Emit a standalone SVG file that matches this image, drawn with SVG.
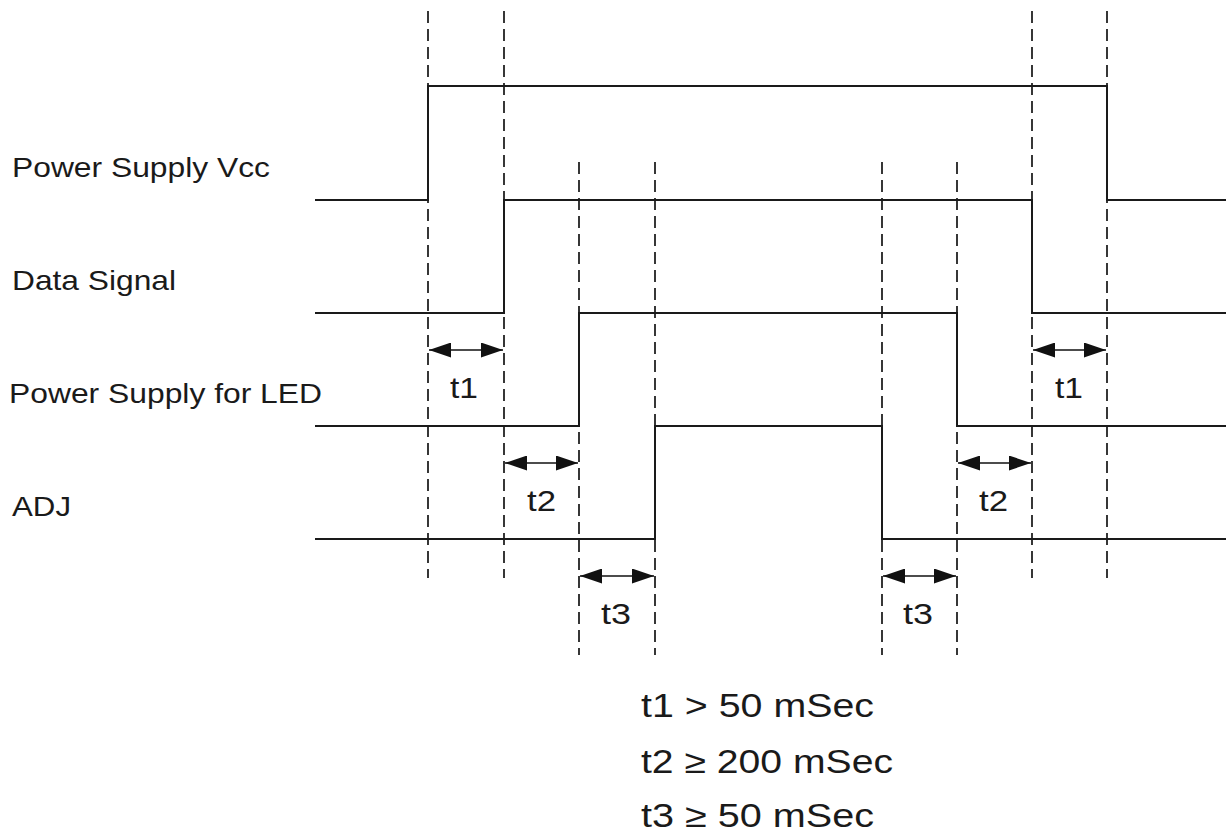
<svg xmlns="http://www.w3.org/2000/svg" width="1231" height="840" viewBox="0 0 1231 840">
<defs>
<marker id="ah" viewBox="0 0 22 15" refX="22" refY="7.5" markerWidth="22" markerHeight="15" markerUnits="userSpaceOnUse" orient="auto-start-reverse">
<path d="M0,0 L22,7.5 L0,15 Z" fill="#111"/>
</marker>
<style>
.sig{fill:none;stroke:#1a1a1a;stroke-width:2}
.dash{stroke:#222;stroke-width:1.8;stroke-dasharray:12 6}
.arr{stroke:#111;stroke-width:1.6;marker-start:url(#ah);marker-end:url(#ah)}
text{font-family:"Liberation Sans",Arial,sans-serif;fill:#1a1a1a}
.lbl{font-size:28px}
.t{font-size:29px}
.eq{font-size:33px}
</style>
</defs>
<rect width="1231" height="840" fill="#fff"/>
<g id="guides">
<line class="dash" x1="428" y1="11" x2="428" y2="578"/>
<line class="dash" x1="504" y1="11" x2="504" y2="578"/>
<line class="dash" x1="1032" y1="11" x2="1032" y2="578"/>
<line class="dash" x1="1107" y1="11" x2="1107" y2="578"/>
<line class="dash" x1="579" y1="162" x2="579" y2="655"/>
<line class="dash" x1="655" y1="162" x2="655" y2="655"/>
<line class="dash" x1="882" y1="162" x2="882" y2="655"/>
<line class="dash" x1="957" y1="162" x2="957" y2="655"/>
</g>
<g id="vcc">
<path class="sig" d="M315,200 H428 V86 H1107 V200 H1226"/>
<text class="lbl" x="12" y="177" textLength="258" lengthAdjust="spacingAndGlyphs">Power Supply Vcc</text>
</g>
<g id="data">
<path class="sig" d="M315,313 H504 V200 H1032 V313 H1226"/>
<text class="lbl" x="12" y="290" textLength="164" lengthAdjust="spacingAndGlyphs">Data Signal</text>
</g>
<g id="led">
<path class="sig" d="M315,426 H579 V313 H957 V426 H1226"/>
<text class="lbl" x="9" y="403" textLength="313" lengthAdjust="spacingAndGlyphs">Power Supply for LED</text>
</g>
<g id="adj">
<path class="sig" d="M315,539 H655 V426 H882 V539 H1226"/>
<text class="lbl" x="12" y="516" textLength="59" lengthAdjust="spacingAndGlyphs">ADJ</text>
</g>
<g id="connectors">
<line class="arr" x1="429" y1="350" x2="503" y2="350"/>
<line class="arr" x1="1033" y1="350" x2="1106" y2="350"/>
<line class="arr" x1="505" y1="463" x2="578" y2="463"/>
<line class="arr" x1="958" y1="463" x2="1031" y2="463"/>
<line class="arr" x1="580" y1="576" x2="654" y2="576"/>
<line class="arr" x1="883" y1="576" x2="956" y2="576"/>
</g>
<g id="timing-labels">
<text class="t" x="450" y="398" textLength="28" lengthAdjust="spacingAndGlyphs">t1</text>
<text class="t" x="1055" y="398" textLength="28" lengthAdjust="spacingAndGlyphs">t1</text>
<text class="t" x="527" y="511" textLength="29" lengthAdjust="spacingAndGlyphs">t2</text>
<text class="t" x="979" y="511" textLength="29" lengthAdjust="spacingAndGlyphs">t2</text>
<text class="t" x="601" y="624" textLength="30" lengthAdjust="spacingAndGlyphs">t3</text>
<text class="t" x="903" y="624" textLength="30" lengthAdjust="spacingAndGlyphs">t3</text>
</g>
<g id="legend">
<text class="eq" x="641" y="717" textLength="233" lengthAdjust="spacingAndGlyphs">t1 &gt; 50 mSec</text>
<text class="eq" x="641" y="773" textLength="252" lengthAdjust="spacingAndGlyphs">t2 ≥ 200 mSec</text>
<text class="eq" x="641" y="827" textLength="233" lengthAdjust="spacingAndGlyphs">t3 ≥ 50 mSec</text>
</g>
</svg>
